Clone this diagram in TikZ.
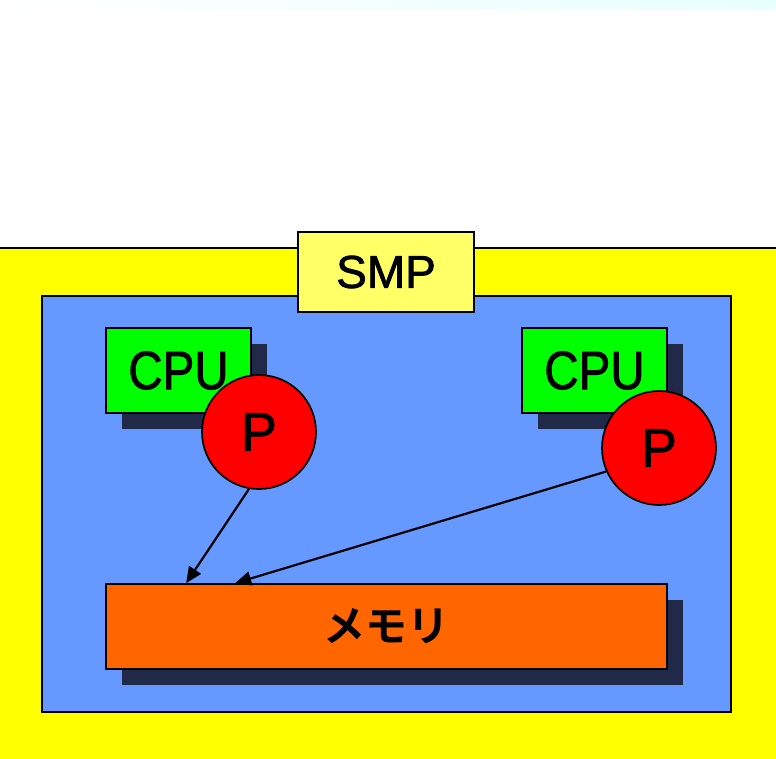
\documentclass[tikz,border=0pt]{standalone}
\usepackage{fontspec}
\setmainfont{Liberation Sans}[FakeBold=1.6]
\newfontfamily\cjk{Noto Sans CJK JP}[UprightFont=* Bold]
\usetikzlibrary{arrows.meta,shadows,calc}
\definecolor{bgyellow}{RGB}{255,255,0}
\definecolor{smpblue}{RGB}{102,153,255}
\definecolor{labelyellow}{RGB}{255,255,102}
\definecolor{cpugreen}{RGB}{0,255,0}
\definecolor{memorange}{RGB}{255,102,0}
\definecolor{shadowcol}{RGB}{32,42,72}
\definecolor{topcyan}{RGB}{232,255,255}
\begin{document}
\begin{tikzpicture}[x=1pt,y=-1pt,line width=1.7pt,>={Triangle[length=16pt,width=14pt]}]
\tikzstyle{boxshadow} = [drop shadow={shadow xshift=16pt,shadow yshift=-16pt,fill=shadowcol,opacity=1}]
\tikzstyle{cpubox} = [draw,fill=cpugreen,minimum width=145pt,minimum height=85pt,inner sep=0pt,boxshadow,font=\fontsize{54}{54}\selectfont]
\tikzstyle{procnode} = [draw,circle,fill=red,minimum size=114pt,inner sep=0pt,font=\fontsize{54}{54}\selectfont]
\useasboundingbox (0,0) rectangle (776,759);
%bande claire en haut
\shade[left color=white,right color=topcyan] (0,0) rectangle (776,10);
%fond jaune et cadre bleu
\draw[fill=bgyellow] (-3,248) rectangle (779,762);
\draw[fill=smpblue] (42,296) rectangle (731,712);
%étiquette SMP
\node[draw,fill=labelyellow,minimum width=176pt,minimum height=80pt,inner sep=0pt,font=\fontsize{46}{46}\selectfont](smp) at (386,272){SMP};
%processeurs
\node[cpubox](cpu1) at (178.5,370.5){\raisebox{-3pt}{\scalebox{0.88}[1]{CPU}}};
\node[cpubox](cpu2) at (594.5,370.5){\raisebox{-3pt}{\scalebox{0.88}[1]{CPU}}};
\node[procnode](p1) at (259,432){\raisebox{-3pt}{P}};
\node[procnode](p2) at (659,448){\raisebox{-3pt}{P}};
%mémoire
\node[draw,fill=memorange,minimum width=561pt,minimum height=85pt,inner sep=0pt,boxshadow,font=\cjk\fontsize{42}{42}\selectfont](mem) at (386.5,626.5){\raisebox{-4pt}{メモリ}};
\coordinate (m1) at ($(mem.north west)+(81,0)$);
\coordinate (m2) at ($(mem.north west)+(130,0)$);
%accès mémoire
\draw[->,line width=2.2pt] (p1.-100)--(m1);
\draw[->,line width=2.2pt] (p2.204)--(m2);
\end{tikzpicture}
\end{document}
